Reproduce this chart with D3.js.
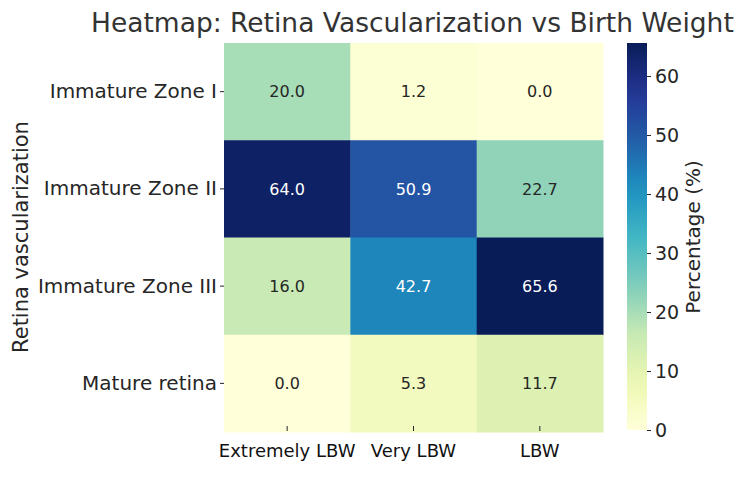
<!DOCTYPE html>
<html>
<head>
<meta charset="utf-8">
<script src="https://cdn.jsdelivr.net/npm/d3@7"></script>
<style>
  body { margin: 0; background: #fff; }
  text { font-family: "DejaVu Sans", sans-serif; fill: #262626; }
</style>
</head>
<body>
<svg id="chart"></svg>
<script>
// data
const rows = ["Immature Zone I", "Immature Zone II", "Immature Zone III", "Mature retina"];
const cols = ["Extremely LBW", "Very LBW", "LBW"];
const extremelyLBW = [20.0, 64.0, 16.0, 0.0];
const veryLBW = [1.2, 50.9, 42.7, 5.3];
const lbw = [0.0, 22.7, 65.6, 11.7];
const cbarTicks = [0, 10, 20, 30, 40, 50, 60];

const width = 750, height = 477;
const margin = {top: 43, left: 224, right: 147, bottom: 45};

const series = [extremelyLBW, veryLBW, lbw];
const cells = [];
rows.forEach((r, i) => cols.forEach((c, j) => cells.push({row: r, col: c, value: series[j][i]})));

const vmax = d3.max(cells, d => d.value);

// matplotlib YlGnBu, linear segments
const ylgnbu = ["#ffffd9", "#edf8b1", "#c7e9b4", "#7fcdbb", "#41b6c4", "#1d91c0", "#225ea8", "#253494", "#081d58"];
const color = d3.scaleLinear()
  .domain(ylgnbu.map((_, i) => i / (ylgnbu.length - 1) * vmax))
  .range(ylgnbu)
  .clamp(true);

const x = d3.scaleBand().domain(cols).range([margin.left, 603]);
const y = d3.scaleBand().domain(rows).range([margin.top, 432]);

const svg = d3.select("#chart").attr("width", width).attr("height", height);

svg.selectAll(".cell")
  .data(cells)
  .enter().append("rect")
  .attr("class", "cell")
  .attr("x", d => x(d.col))
  .attr("y", d => y(d.row))
  .attr("width", x.bandwidth() + 0.5)
  .attr("height", y.bandwidth() + 0.5)
  .attr("fill", d => color(d.value));

svg.selectAll(".lbl")
  .data(cells)
  .enter().append("text")
  .attr("class", "lbl")
  .attr("x", d => x(d.col) + x.bandwidth() / 2)
  .attr("y", d => y(d.row) + y.bandwidth() / 2)
  .attr("text-anchor", "middle")
  .attr("dy", "0.36em")
  .attr("font-size", 16)
  .style("fill", d => d.value > 35 ? "#ffffff" : "#262626")
  .text(d => d.value.toFixed(1));

// y axis
const yAx = svg.append("g")
  .attr("transform", `translate(${margin.left},0)`)
  .call(d3.axisLeft(y).tickSize(4).tickPadding(3));
yAx.select(".domain").remove();
yAx.selectAll("line").attr("stroke", "#262626");
yAx.selectAll("text").attr("font-size", 20).attr("font-family", "DejaVu Sans").style("fill", "#262626");

// x axis: ticks sit just inside the bottom row
const xAx = svg.append("g")
  .attr("transform", `translate(0,426)`)
  .call(d3.axisBottom(x).tickSize(5).tickPadding(13));
xAx.select(".domain").remove();
xAx.selectAll("line").attr("stroke", "#262626");
xAx.selectAll("text").attr("font-size", 18).attr("font-family", "Lato, sans-serif").style("fill", "#111");

svg.append("text")
  .attr("transform", "translate(28,237) rotate(-90)")
  .attr("text-anchor", "middle")
  .attr("font-size", 21)
  .text("Retina vascularization");

svg.append("text")
  .attr("x", 91)
  .attr("y", 32)
  .attr("font-size", 26.5)
  .style("fill", "#333")
  .text("Heatmap: Retina Vascularization vs Birth Weight");

// colorbar
const cbX = 627, cbW = 20;
const cy = d3.scaleLinear().domain([0, vmax]).range([430, margin.top]);
const grad = svg.append("defs").append("linearGradient")
  .attr("id", "cbar").attr("x1", 0).attr("y1", 1).attr("x2", 0).attr("y2", 0);
grad.selectAll("stop")
  .data(d3.range(0, 1.0001, 0.05))
  .enter().append("stop")
  .attr("offset", d => d)
  .attr("stop-color", d => color(d * vmax));
svg.append("rect")
  .attr("x", cbX).attr("y", cy(vmax))
  .attr("width", cbW).attr("height", cy(0) - cy(vmax))
  .attr("fill", "url(#cbar)");

const cAx = svg.append("g")
  .attr("transform", `translate(${cbX + cbW},0)`)
  .call(d3.axisRight(cy).tickValues(cbarTicks).tickSize(4).tickPadding(4));
cAx.select(".domain").remove();
cAx.selectAll("line").attr("stroke", "#262626");
cAx.selectAll("text").attr("font-size", 19).attr("font-family", "DejaVu Sans").style("fill", "#262626");

svg.append("text")
  .attr("transform", "translate(700,237) rotate(-90)")
  .attr("text-anchor", "middle")
  .attr("font-size", 20)
  .text("Percentage (%)");
</script>
</body>
</html>
